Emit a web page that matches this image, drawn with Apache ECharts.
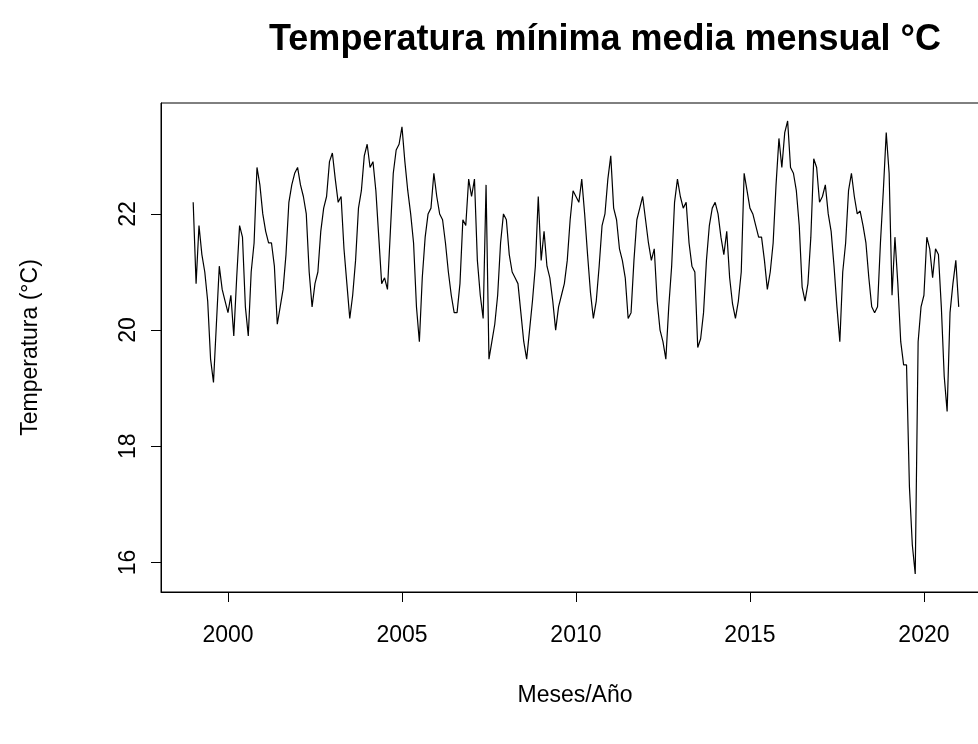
<!DOCTYPE html>
<html>
<head>
<meta charset="utf-8">
<script src="https://cdn.jsdelivr.net/npm/echarts@6/dist/echarts.min.js"></script>
<style>
  html, body { margin: 0; padding: 0; background: #ffffff; overflow: hidden; }
  #chart { width: 1010px; height: 744px; }
</style>
</head>
<body>
<div id="chart"></div>
<script>
// Monthly series, one array per year (Jan..Dec), starting January 1999
const startYear = 1999;
const t1999 = [22.2, 20.8, 21.8, 21.3, 21.0, 20.5, 19.5, 19.1, 20.1, 21.1, 20.7, 20.5];
const t2000 = [20.3, 20.6, 19.9, 20.9, 21.8, 21.6, 20.4, 19.9, 21.0, 21.5, 22.8, 22.5];
const t2001 = [22.0, 21.7, 21.5, 21.5, 21.1, 20.1, 20.4, 20.7, 21.3, 22.2, 22.5, 22.7];
const t2002 = [22.8, 22.5, 22.3, 22.0, 21.0, 20.4, 20.8, 21.0, 21.7, 22.1, 22.3, 22.9];
const t2003 = [23.05, 22.6, 22.2, 22.3, 21.4, 20.8, 20.2, 20.6, 21.2, 22.1, 22.4, 23.0];
const t2004 = [23.2, 22.8, 22.9, 22.4, 21.6, 20.8, 20.9, 20.7, 21.7, 22.7, 23.1, 23.2];
const t2005 = [23.5, 22.9, 22.4, 22.0, 21.5, 20.4, 19.8, 20.9, 21.6, 22.0, 22.1, 22.7];
const t2006 = [22.3, 22.0, 21.9, 21.5, 21.0, 20.6, 20.3, 20.3, 20.8, 21.9, 21.8, 22.6];
const t2007 = [22.3, 22.6, 21.2, 20.6, 20.2, 22.5, 19.5, 19.8, 20.1, 20.6, 21.5, 22.0];
const t2008 = [21.9, 21.3, 21.0, 20.9, 20.8, 20.3, 19.8, 19.5, 20.0, 20.5, 21.1, 22.3];
const t2009 = [21.2, 21.7, 21.1, 20.9, 20.5, 20.0, 20.4, 20.6, 20.8, 21.2, 21.9, 22.4];
const t2010 = [22.3, 22.2, 22.6, 22.0, 21.3, 20.65, 20.2, 20.5, 21.1, 21.8, 22.0, 22.6];
const t2011 = [23.0, 22.1, 21.9, 21.4, 21.2, 20.9, 20.2, 20.3, 21.2, 21.9, 22.1, 22.3];
const t2012 = [21.9, 21.5, 21.2, 21.4, 20.5, 20.0, 19.8, 19.5, 20.4, 21.1, 22.2, 22.6];
const t2013 = [22.3, 22.1, 22.2, 21.5, 21.1, 21.0, 19.7, 19.85, 20.3, 21.2, 21.8, 22.1];
const t2014 = [22.2, 22.0, 21.6, 21.3, 21.7, 20.9, 20.45, 20.2, 20.5, 21.0, 22.7, 22.4];
const t2015 = [22.1, 22.0, 21.8, 21.6, 21.6, 21.2, 20.7, 21.0, 21.5, 22.5, 23.3, 22.8];
const t2016 = [23.4, 23.6, 22.8, 22.7, 22.4, 21.8, 20.74, 20.5, 20.8, 21.6, 22.95, 22.8];
const t2017 = [22.2, 22.3, 22.5, 22.0, 21.7, 21.1, 20.4, 19.8, 21.0, 21.5, 22.4, 22.7];
const t2018 = [22.3, 22.0, 22.05, 21.8, 21.5, 20.9, 20.4, 20.3, 20.4, 21.5, 22.4, 23.4];
const t2019 = [22.7, 20.6, 21.6, 20.8, 19.8, 19.4, 19.4, 17.3, 16.3, 15.8, 19.8, 20.4];
const t2020 = [20.6, 21.6, 21.4, 20.9, 21.4, 21.3, 20.4, 19.2, 18.6, 20.3, 20.8, 21.2];
const t2021 = [20.4];

const xTicks = [2000, 2005, 2010, 2015, 2020];
const yTicks = [16, 18, 20, 22];

const monthly = [].concat(t1999, t2000, t2001, t2002, t2003, t2004, t2005, t2006,
  t2007, t2008, t2009, t2010, t2011, t2012, t2013, t2014, t2015, t2016, t2017,
  t2018, t2019, t2020, t2021);
const seriesData = monthly.map((v, i) => [startYear + i / 12, v]);

const FONT = '"Liberation Sans", Arial, sans-serif';
const chart = echarts.init(document.getElementById('chart'), null, { renderer: 'canvas' });
chart.setOption({
  animation: false,
  backgroundColor: '#ffffff',
  title: {
    text: 'Temperatura mínima media mensual °C',
    left: 600,
    textAlign: 'center',
    top: 17,
    textStyle: { fontFamily: FONT, fontSize: 36, fontWeight: 'bold', color: '#000' }
  },
  grid: {
    left: 161, top: 103, width: 828, height: 489,
    show: true, borderColor: '#000', borderWidth: 1, backgroundColor: 'transparent'
  },
  xAxis: {
    type: 'value', min: 1998.075, max: 2021.87,
    name: 'Meses/Año', nameLocation: 'middle', nameGap: 92,
    nameTextStyle: { fontFamily: FONT, fontSize: 23, color: '#000' },
    axisLine: { show: true, onZero: false, lineStyle: { color: '#000', width: 1 } },
    axisTick: { show: true, inside: false, length: 10, customValues: xTicks, lineStyle: { color: '#000', width: 1 } },
    axisLabel: { customValues: xTicks, margin: 32, fontFamily: FONT, fontSize: 23, color: '#000', formatter: v => String(v) },
    splitLine: { show: false }
  },
  yAxis: {
    type: 'value', min: 15.49, max: 23.91,
    name: 'Temperatura (°C)', nameLocation: 'middle', nameGap: 119, nameRotate: 90,
    nameTextStyle: { fontFamily: FONT, fontSize: 23, color: '#000' },
    axisLine: { show: true, onZero: false, lineStyle: { color: '#000', width: 1 } },
    axisTick: { show: true, inside: false, length: 10, customValues: yTicks, lineStyle: { color: '#000', width: 1 } },
    axisLabel: { customValues: yTicks, rotate: 90, margin: 21, fontFamily: FONT, fontSize: 23, color: '#000', formatter: v => String(v) },
    splitLine: { show: false }
  },
  series: [{
    type: 'line',
    data: seriesData,
    showSymbol: false,
    symbol: 'none',
    lineStyle: { color: '#000', width: 1.2 },
    emphasis: { disabled: true }
  }]
});
</script>
</body>
</html>
